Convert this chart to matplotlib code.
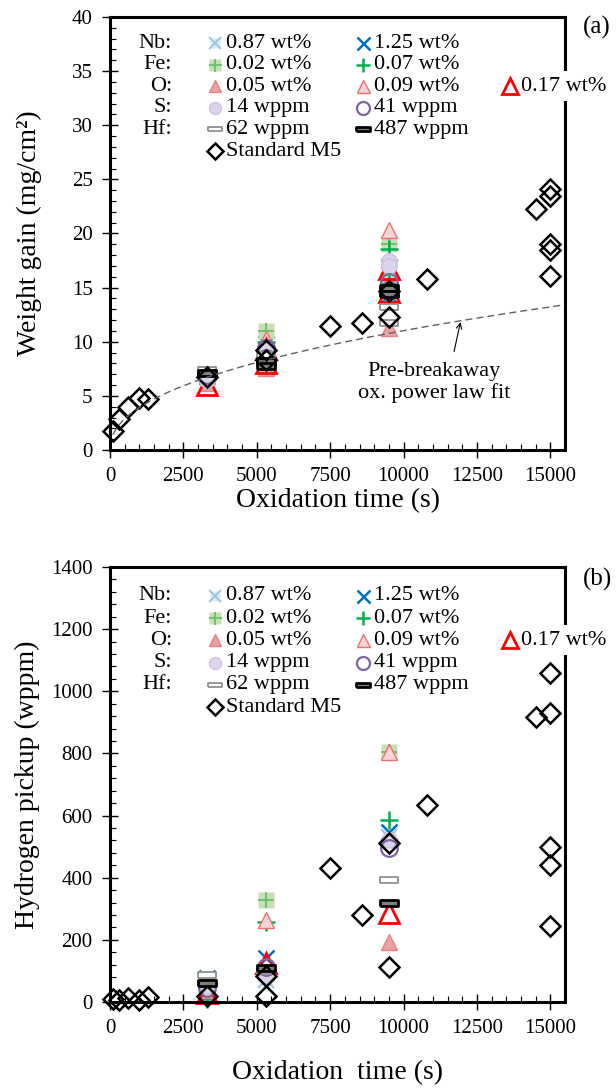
import matplotlib.pyplot as plt
from matplotlib.lines import Line2D
from matplotlib.ticker import MultipleLocator
import numpy as np

plt.rcParams['font.family'] = ['Liberation Serif', 'DejaVu Serif']

# oxidation times (s) of the alloy variants
t_var_a = [3300, 5300, 5300, 9500, 9500]
t_var_b = [3300, 5300, 9500]

# weight gain (mg/cm2), panel (a)
wg_nb087 = [6.8, 9.0, 7.9, 16.2, 13.9]
wg_nb125 = [7.0, 9.8, 8.4, 16.9, 14.3]
wg_fe002 = [6.9, 11.0, 8.9, 19.0, 15.6]
wg_fe007 = [6.6, 10.0, 8.6, 18.6, 15.3]
wg_o005 = [6.2, 8.3, 7.6, 13.8, 11.3]
wg_o009 = [6.8, 10.3, 8.8, 20.3, 14.9]
wg_o017 = [6.0, 9.3, 8.0, 16.7, 14.6]
wg_s14 = [6.5, 9.1, 8.6, 17.5, 17.0]
wg_s41 = [6.9, 9.4, 8.5, 15.5, 14.8]
wg_hf62 = [7.4, 8.8, 8.1, 13.2, 11.7]
wg_hf487 = [7.1, 8.2, 7.8, 15.0, 14.4]

t_m5 = [100, 300, 600, 1000, 1300, 3300, 5300, 5300, 7500, 8600, 9500, 9500,
        10800, 14500, 15000, 15000, 15000, 15000, 15000]
wg_m5 = [1.8, 2.9, 4.0, 4.8, 4.7, 6.7, 9.2, 8.3, 11.5, 11.7, 12.3, 14.7,
         15.8, 22.3, 24.1, 23.5, 19.0, 18.5, 16.1]

# hydrogen pickup (wppm), panel (b)
hp_nb087 = [55, 70, 530]
hp_nb125 = [77, 142, 547]
hp_fe002 = [45, 328, 806]
hp_fe007 = [10, 258, 586]
hp_o005 = [40, 95, 193]
hp_o009 = [45, 264, 806]
hp_o017 = [30, 125, 286]
hp_s14 = [50, 87, 521]
hp_s41 = [45, 113, 496]
hp_hf62 = [87, 100, 393]
hp_hf487 = [60, 109, 319]
hp_m5 = [10, 5, 12, 8, 15, 20, 20, 85, 431, 280, 512, 113,
         633, 917, 1058, 930, 499, 441, 245]

# pre-breakaway power law fit w = a * t^n
fit_a = 0.178
fit_n = 0.448

row_names = ['Nb:', 'Fe:', 'O:', 'S:', 'Hf:']
labels = ['0.87 wt%', '1.25 wt%', '0.02 wt%', '0.07 wt%', '0.05 wt%', '0.09 wt%',
          '0.17 wt%', '14 wppm', '41 wppm', '62 wppm', '487 wppm', 'Standard M5']

rect = [(-1, -0.28), (1, -0.28), (1, 0.28), (-1, 0.28), (-1, -0.28)]
styles = [
    [dict(marker='s', ms=10, mfc='#dcebf8', mec='none'), dict(marker='x', ms=11, mec='#9dc3e6', mew=1.4)],
    [dict(marker='x', ms=12, mec='#0070c0', mew=1.8)],
    [dict(marker='s', ms=11, mfc='#c6e0b4', mec='none'), dict(marker='+', ms=12, mec='#70c070', mew=1.4)],
    [dict(marker='+', ms=13, mec='#00b050', mew=1.8)],
    [dict(marker='^', ms=11, mfc='#e6a3a3', mec='#f08080', mew=1.0)],
    [dict(marker='^', ms=12, mfc='#f4d4d4', mec='#f07070', mew=1.0)],
    [dict(marker='^', ms=14, mfc='none', mec='#ff0000', mew=2.0)],
    [dict(marker='o', ms=11, mfc='#dcd5ea', mec='#cdc2e2', mew=1.0)],
    [dict(marker='o', ms=12, mfc='none', mec='#8064a2', mew=1.6)],
    [dict(marker=rect, ms=13, mfc='white', mec='#909090', mew=1.3)],
    [dict(marker=rect, ms=13, mfc='#808080', mec='black', mew=2.0)],
    [dict(marker='D', ms=10.5, mfc='none', mec='black', mew=1.8)],
]

fig = plt.figure(figsize=(6.16, 10.92), dpi=100)
W, H = 616, 1092
ax1 = fig.add_axes([110 / W, 1 - 450 / H, 455 / W, 433 / H])
ax2 = fig.add_axes([110 / W, 1 - 1002 / H, 455 / W, 435 / H])


def draw(ax, t, y, layers):
    for st in layers:
        ax.plot(t, y, ls='none', clip_on=False, **st)


series_a = [wg_nb087, wg_nb125, wg_fe002, wg_fe007, wg_o005, wg_o009, wg_o017,
            wg_s14, wg_s41, wg_hf62, wg_hf487]
series_b = [hp_nb087, hp_nb125, hp_fe002, hp_fe007, hp_o005, hp_o009, hp_o017,
            hp_s14, hp_s41, hp_hf62, hp_hf487]
for vals, st in zip(series_a, styles[:-1]):
    draw(ax1, t_var_a, vals, st)
draw(ax1, t_m5, wg_m5, styles[-1])
for vals, st in zip(series_b, styles[:-1]):
    draw(ax2, t_var_b, vals, st)
draw(ax2, t_m5, hp_m5, styles[-1])

t_fit = np.linspace(100, 15500, 300)
ax1.plot(t_fit, fit_a * t_fit ** fit_n, ls=(0, (5, 3)), color='#606060', lw=1.0)
ax1.annotate('', xy=(11950, fit_a * 11950 ** fit_n), xytext=(11720, 9.1),
             arrowprops=dict(arrowstyle='->', color='black', lw=0.8, shrinkA=0, shrinkB=1))
ax1.text(11050, 6.2, 'Pre-breakaway\nox. power law fit', ha='center', va='center',
         fontsize=16, linespacing=1.15)

for ax, ymax, ymaj, ymin in [(ax1, 40, 5, 1), (ax2, 1400, 200, 40)]:
    ax.set_xlim(0, 15500)
    ax.set_ylim(0, ymax)
    ax.xaxis.set_major_locator(MultipleLocator(2500))
    ax.xaxis.set_minor_locator(MultipleLocator(500))
    ax.yaxis.set_major_locator(MultipleLocator(ymaj))
    ax.yaxis.set_minor_locator(MultipleLocator(ymin))
    ax.tick_params(which='major', direction='inout', length=11, width=1.0, labelsize=15, pad=7)
    ax.tick_params(which='minor', direction='in', length=4, width=0.8)
    for s in ax.spines.values():
        s.set_linewidth(2.2)

ax1.set_xlabel('Oxidation time (s)', fontsize=20, labelpad=1)
ax2.set_xlabel('Oxidation  time (s)', fontsize=20, labelpad=16)
ax1.set_ylabel('Weight gain (mg/cm²)', fontsize=20, labelpad=21)
ax2.set_ylabel('Hydrogen pickup (wppm)', fontsize=20, labelpad=8)

fig.text(597 / W, 1 - 27 / H, '(a)', ha='center', va='center', fontsize=18)
fig.text(597 / W, 1 - 579 / H, '(b)', ha='center', va='center', fontsize=18)

# legend grid: (row, column) for each entry
cells = [(0, 0), (0, 1), (1, 0), (1, 1), (2, 0), (2, 1), (2, 2),
         (3, 0), (3, 1), (4, 0), (4, 1), (5, 0)]
col_x = [215, 363, 510]


def legend(y0, dy):
    for i, name in enumerate(row_names):
        fig.text(172 / W, 1 - (y0 + i * dy) / H, name, ha='right', va='center', fontsize=16)
    for (r, c), lab, st in zip(cells, labels, styles):
        py = y0 + r * dy
        for layer in st:
            lay = dict(layer)
            lay['ms'] = lay['ms'] * 0.78
            fig.add_artist(Line2D([col_x[c] / W], [1 - py / H], ls='none', zorder=5, **lay))
        kw = {}
        if c == 2:
            kw['bbox'] = dict(fc='white', ec='none', pad=4)
        fig.text((col_x[c] + 11) / W, 1 - py / H, lab, ha='left', va='center', fontsize=16, **kw)


legend(43, 21.6)
legend(596, 22.2)

fig.savefig('out.png', dpi=100)
